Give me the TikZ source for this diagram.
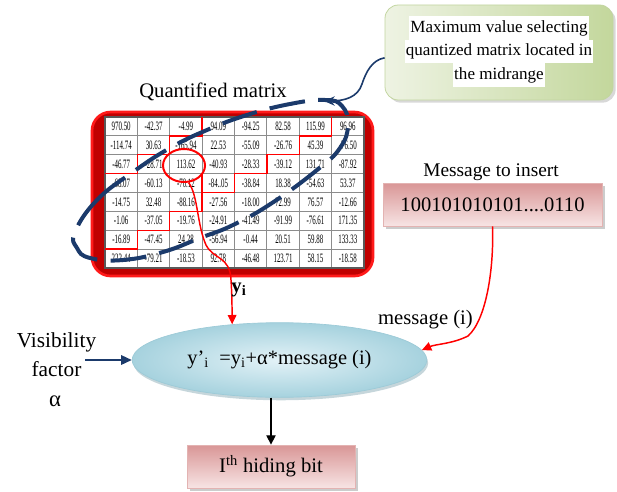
\documentclass[tikz,border=0pt]{standalone}
\usepackage{fontspec}
\setmainfont{Liberation Serif}
\usepackage{graphicx}
\usetikzlibrary{arrows.meta,shadows,shapes.geometric}

\definecolor{navyline}{HTML}{1B3A6B}
\definecolor{framered}{HTML}{C00000}
\definecolor{rimred}{HTML}{FF1A1A}
\definecolor{cellgrid}{HTML}{8C8C8C}
\definecolor{pinktop}{HTML}{D99696}
\definecolor{pinkbot}{HTML}{F7E4E4}
\definecolor{pinkrim}{HTML}{E3B3B2}
\definecolor{greendark}{HTML}{C3D79C}
\definecolor{greenlight}{HTML}{EEF3E3}
\definecolor{greenrim}{HTML}{C2D5A0}
\definecolor{bluein}{HTML}{E3F2F7}
\definecolor{blueout}{HTML}{A6D2DE}
\definecolor{bluerim}{HTML}{9CCAD7}
\definecolor{blueshadow}{HTML}{8DAEB8}

% narrow digits for the matrix entries
\newcommand\cellnum[1]{\scalebox{0.54}[1]{#1}}

\begin{document}
\begin{tikzpicture}[x=0.75pt,y=-0.75pt,
  lbl/.style={inner sep=0pt, font=\fontsize{15.5}{18}\selectfont},
  cell/.style={inner sep=0pt, font=\fontsize{9.6}{10}\selectfont, text=black},
  stair/.style={draw=red, line width=1.1pt},
  pinkbox/.style={draw=pinkrim, line width=0.6pt, top color=pinktop, bottom color=pinkbot,
    drop shadow={shadow xshift=2pt, shadow yshift=-2pt, fill=black!40},
    inner sep=0pt, minimum height=32.25pt},
  greenbox/.style={draw=greenrim, line width=0.6pt, rounded corners=10pt,
    left color=greenlight, right color=greendark,
    drop shadow={shadow xshift=2pt, shadow yshift=-2pt, fill=black!30},
    minimum width=171pt, minimum height=71.25pt},
  gline/.style={fill=white, inner xsep=1pt, inner ysep=0pt, minimum height=17.6pt,
    font=\fontsize{12.8}{15}\selectfont},
  redarrow/.style={draw=red, line width=1.1pt, -{Triangle[length=7pt,width=6.5pt]}},
  navyarrow/.style={draw=navyline, line width=1.5pt, -{Triangle[length=8pt,width=7pt]}},
  blackarrow/.style={draw=black, line width=1pt, -{Triangle[length=7pt,width=7pt]}},
]
\useasboundingbox (0,0) rectangle (617,492);

% ---- frame around the quantised matrix ----
\draw[fill=framered, draw=rimred, line width=2pt, rounded corners=14pt]
  (92,112) rectangle (373,276);
\fill[white] (105,117) rectangle (364,268);

% grid of cells
\foreach \k in {0,...,8} {
  \draw[cellgrid, line width=0.6pt] ({105+32.375*\k},117) -- ({105+32.375*\k},268);
  \draw[cellgrid, line width=0.6pt] (105,{117+18.875*\k}) -- (364,{117+18.875*\k});
}
\draw[black!65, line width=0.8pt] (105,117) rectangle (364,268);

% matrix entries
\foreach \row [count=\r from 0] in {
  {970.50,-42.37,-4.99,94.09,-94.25,82.58,115.99,96.96},
  {-114.74,30.63,-165.94,22.53,-55.09,-26.76,45.39,-76.50},
  {-46.77,-28.71,113.62,-40.93,-28.33,-39.12,131.71,-87.92},
  {-68.07,-60.13,-70.12,-84..05,-38.84,18.38,-54.63,53.37},
  {-14.75,32.48,-88.16,-27.56,-18.00,72.99,76.57,-12.66},
  {-1.06,-37.05,-19.76,-24.91,-41.49,-91.99,-76.61,171.35},
  {-16.89,-47.45,24.28,-56.94,-0.44,20.51,59.88,133.33},
  {222.44,-79.21,-18.53,92.78,-46.48,123.71,58.15,-18.58}} {
  \foreach \v [count=\c from 0] in \row {
    \node[cell] (n\r\c) at ({105+32.375*(\c+0.5)},{117+18.875*(\r+0.5)}) {\cellnum{\v}};
  }
}

% low / high frequency boundaries
\draw[stair] (105,173.625) -- (137.375,173.625) -- (137.375,154.75) -- (169.75,154.75)
  -- (169.75,135.875) -- (202.125,135.875) -- (202.125,117);
\draw[stair] (331.625,117) -- (331.625,135.875) -- (299.25,135.875) -- (299.25,154.75)
  -- (266.875,154.75) -- (266.875,173.625) -- (234.5,173.625) -- (234.5,192.5)
  -- (202.125,192.5) -- (202.125,211.375) -- (169.75,211.375) -- (169.75,230.25)
  -- (137.375,230.25) -- (137.375,249.125) -- (105,249.125);
\draw[stair] (202.125,173.625) -- (202.125,192.5);

% selected coefficient
\node[ellipse, draw=red, line width=1.5pt, minimum width=31.5pt, minimum height=24.75pt,
  inner sep=0pt] (circ) at (184,165.5) {};

% ---- main ellipse ----
\node[ellipse, draw=bluerim, line width=0.5pt, inner color=bluein, outer color=blueout,
  drop shadow={shadow xshift=1pt, shadow yshift=-2.2pt, fill=blueshadow},
  minimum width=221pt, minimum height=56pt, inner sep=0pt,
  font=\fontsize{15.3}{18}\selectfont] (eq) at (279.5,360)
  {y’\textsubscript{i}\ \ =y\textsubscript{i}+α*message (i)};

% red path from the chosen coefficient to the ellipse
\draw[redarrow] (circ.-75) .. controls (198,195) and (197,225) .. (206,245)
  .. controls (214,260) and (230,256) .. (231,280)
  .. controls (232,295) and (232,305) .. (eq.143);
\node[lbl, font=\fontsize{15.5}{18}\bfseries] (yi) at (239,290) {y\textsubscript{i}};

% dashed region: the midrange
\draw[navyline, line width=3pt, dash pattern=on 27pt off 10pt, line cap=butt]
  plot[smooth cycle, tension=0.75] coordinates {
    (75,232) (97,200) (133,172) (170,148) (207,130) (247,115) (290,104)
    (325,100) (342,106) (348,125) (340,148) (317,170) (272,203) (233,225)
    (200,238) (163,252) (123,260) (90,258) (77,248)};

\node[lbl] (qm) at (213,92) {Quantified matrix};

% ---- note box ----
\node[greenbox] (gbox) at (499,52.5) {};
\node[gline] (g1) at (499,28) {Maximum value selecting};
\node[gline] (g2) at (499,51.6) {quantized matrix located in};
\node[gline] (g3) at (499,75.2) {the midrange};
\coordinate (dtop) at (324,101);
\draw[draw=navyline, line width=1.2pt, -{Stealth[length=8pt,width=7pt]}]
  ([yshift=-4pt]gbox.west) .. controls (372,60) and (366,72) .. (362,84)
  .. controls (358,97) and (345,101) .. (dtop);

% ---- message ----
\node[lbl, font=\fontsize{14.5}{17}\selectfont] (mti) at (491,172) {Message to insert};
\node[pinkbox, minimum width=164.25pt, font=\fontsize{15.4}{18}\selectfont] (msg)
  at (492.5,204.5) {100101010101....0110};
\draw[redarrow] (msg.south) .. controls (494,270) and (486,320) .. (468,336)
  .. controls (452,344) and (436,344) .. (eq.4);
\node[lbl] (mlab) at (425.5,320) {message (i)};

% ---- visibility factor ----
\node[lbl, font=\fontsize{16}{18}\selectfont] (vis) at (56.5,342) {Visibility};
\node[lbl, font=\fontsize{16}{18}\selectfont] (fac) at (56.5,369) {factor};
\node[lbl, font=\fontsize{17}{18}\selectfont] (alpha) at (55,401) {α};
\coordinate (vstart) at (85,360);
\draw[navyarrow] (vstart) -- (eq.west);

% ---- output ----
\node[pinkbox, minimum width=126pt, font=\fontsize{15.5}{18}\selectfont] (hb)
  at (271,466.5) {I\textsuperscript{th} hiding bit};
\draw[blackarrow] (hb.north |- eq.south) -- (hb.north);

\end{tikzpicture}
\end{document}
